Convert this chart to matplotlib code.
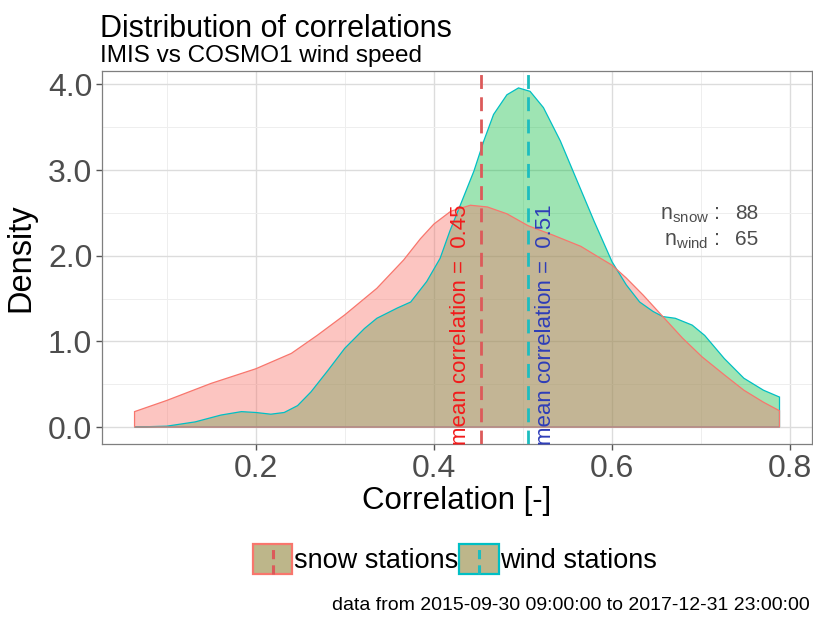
import matplotlib
matplotlib.use("Agg")
from matplotlib import pyplot as plt
from matplotlib.patches import Patch, Rectangle
from matplotlib.lines import Line2D
from matplotlib.legend_handler import HandlerBase
from matplotlib.ticker import MultipleLocator, FormatStrFormatter

plt.rcParams["font.family"] = ["Liberation Sans", "DejaVu Sans"]
plt.rcParams["mathtext.default"] = "regular"

# density curves
snow_x = [0.064, 0.10, 0.15, 0.20, 0.24, 0.269, 0.30, 0.336, 0.366, 0.385, 0.40, 0.419,
          0.441, 0.46, 0.482, 0.506, 0.534, 0.565, 0.584, 0.60, 0.616, 0.635, 0.657,
          0.679, 0.701, 0.726, 0.748, 0.770, 0.788]
snow_y = [0.18, 0.31, 0.51, 0.68, 0.86, 1.07, 1.31, 1.62, 1.95, 2.20, 2.37, 2.52,
          2.59, 2.57, 2.49, 2.35, 2.24, 2.11, 1.99, 1.89, 1.74, 1.54, 1.29,
          1.04, 0.82, 0.61, 0.43, 0.29, 0.19]

wind_x = [0.064, 0.10, 0.132, 0.161, 0.184, 0.20, 0.217, 0.232, 0.247, 0.262, 0.281,
          0.30, 0.322, 0.336, 0.359, 0.374, 0.392, 0.407, 0.418, 0.430, 0.445, 0.456,
          0.467, 0.482, 0.495, 0.508, 0.523, 0.542, 0.561, 0.580, 0.60, 0.616, 0.631,
          0.646, 0.657, 0.671, 0.690, 0.704, 0.726, 0.748, 0.770, 0.788]
wind_y = [0.0, 0.01, 0.06, 0.14, 0.18, 0.17, 0.15, 0.17, 0.25, 0.41, 0.66,
          0.92, 1.15, 1.27, 1.39, 1.46, 1.70, 1.97, 2.29, 2.60, 2.99, 3.34,
          3.65, 3.88, 3.96, 3.92, 3.73, 3.34, 2.87, 2.40, 1.93, 1.66, 1.46,
          1.35, 1.29, 1.27, 1.19, 1.07, 0.80, 0.57, 0.43, 0.35]

mean_snow = 0.4525
mean_wind = 0.506
mean_labels = ["mean correlation =  0.45", "mean correlation =  0.51"]
n_snow = 88
n_wind = 65
groups = ["snow stations", "wind stations"]

red = "#F8766D"
cyan = "#00BFC4"

fig, ax = plt.subplots(figsize=(8.13, 6.17), dpi=100)
fig.subplots_adjust(left=0.1255, right=0.9988, bottom=0.2804, top=0.885)

ax.fill_between(wind_x, wind_y, 0, facecolor="#00BA38", alpha=0.38, edgecolor="none", zorder=2)
ax.fill_between(snow_x, snow_y, 0, facecolor=red, alpha=0.42, edgecolor="none", zorder=2)
ax.fill(wind_x + [wind_x[-1], wind_x[0]], wind_y + [0, 0], fill=False, edgecolor=cyan, lw=0.9, zorder=3)
ax.fill(snow_x + [snow_x[-1], snow_x[0]], snow_y + [0, 0], fill=False, edgecolor=red, lw=0.9, zorder=3)

ax.axvline(mean_snow, color="#DC5A5A", ls=(0, (5, 3)), lw=2.0, zorder=4)
ax.axvline(mean_wind, color="#1DBDBF", ls=(0, (5, 3)), lw=2.0, zorder=4)

ax.text(mean_snow - 0.023, -0.21, mean_labels[0], rotation=90, color="#F21B1B",
        fontsize=16, ha="center", va="bottom", zorder=5)
ax.text(mean_wind + 0.019, -0.21, mean_labels[1], rotation=90, color="#2E3DB8",
        fontsize=16, ha="center", va="bottom", zorder=5)

ax.text(0.7207, 2.43, r"$n_{snow}$ :", ha="right", va="baseline", fontsize=15.5, color="#4d4d4d")
ax.text(0.7207, 2.12, r"$n_{wind}$ :", ha="right", va="baseline", fontsize=15.5, color="#4d4d4d")
ax.text(0.764, 2.43, str(n_snow), ha="right", va="baseline", fontsize=15, color="#4d4d4d")
ax.text(0.764, 2.12, str(n_wind), ha="right", va="baseline", fontsize=15, color="#4d4d4d")

ax.set_xlim(0.0275, 0.8245)
ax.set_ylim(-0.198, 4.158)
ax.xaxis.set_major_locator(MultipleLocator(0.2))
ax.xaxis.set_minor_locator(MultipleLocator(0.1))
ax.yaxis.set_major_locator(MultipleLocator(1.0))
ax.yaxis.set_minor_locator(MultipleLocator(0.5))
ax.xaxis.set_major_formatter(FormatStrFormatter("%.1f"))
ax.yaxis.set_major_formatter(FormatStrFormatter("%.1f"))
ax.grid(which="major", color="#dcdcdc", lw=1.0, zorder=0)
ax.grid(which="minor", color="#eeeeee", lw=0.7, zorder=0)
ax.set_axisbelow(True)
ax.tick_params(which="major", length=4, width=1, color="#555555", labelcolor="#4d4d4d",
               labelsize=23, pad=3)
ax.tick_params(which="minor", length=0)
for s in ax.spines.values():
    s.set_color("#7f7f7f")
    s.set_linewidth(0.9)

ax.set_xlabel("Correlation [-]", fontsize=22.5, labelpad=2)
ax.set_ylabel("Density", fontsize=23.5, labelpad=8)

fig.text(100 / 813, 1 - 37 / 617, "Distribution of correlations", fontsize=22,
         va="baseline", ha="left")
fig.text(100 / 813, 1 - 62 / 617, "IMIS vs COSMO1 wind speed", fontsize=17.5,
         va="baseline", ha="left")
fig.text(810 / 813, 1 - 610 / 617, "data from 2015-09-30 09:00:00 to 2017-12-31 23:00:00",
         fontsize=14, va="baseline", ha="right")


class KeyHandler(HandlerBase):
    def __init__(self, line_color):
        super().__init__()
        self.line_color = line_color

    def create_artists(self, legend, orig_handle, xdescent, ydescent, width, height,
                       fontsize, trans):
        rect = Rectangle((-xdescent, -ydescent), width, height,
                         facecolor=orig_handle.get_facecolor(),
                         edgecolor=orig_handle.get_edgecolor(), lw=1.6, transform=trans)
        line = Line2D([width / 2 - xdescent] * 2, [-ydescent, height - ydescent],
                      color=self.line_color, ls=(0, (3, 2)), lw=2.2, transform=trans)
        return [rect, line]


h1 = Patch(facecolor="#BDB68A", edgecolor=red)
h2 = Patch(facecolor="#BDB68A", edgecolor=cyan)
fig.legend([h1, h2], groups, loc="center", bbox_to_anchor=(455 / 813, 1 - 559 / 617),
           ncol=2, frameon=False, fontsize=19.5, handlelength=1.45, handleheight=1.35,
           handletextpad=0.05, columnspacing=0.05,
           handler_map={h1: KeyHandler("#DC5A5A"), h2: KeyHandler("#1DBDBF")})

fig.savefig("out.png", dpi=100)
